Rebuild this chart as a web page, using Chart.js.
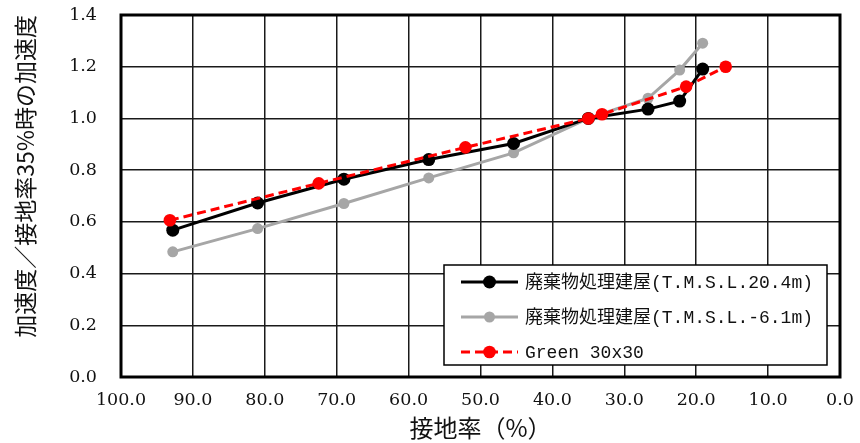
<!DOCTYPE html>
<html>
<head>
<meta charset="utf-8">
<script src="https://cdn.jsdelivr.net/npm/chart.js@4.4.0/dist/chart.umd.min.js"></script>
<style>
  html, body { margin: 0; padding: 0; background: #fff; }
  #wrap { width: 860px; height: 443px; }
</style>
</head>
<body>
<div id="wrap"><canvas id="chart"></canvas></div>
<script>
  const seriesNames = ['廃棄物処理建屋(T.M.S.L.20.4m)', '廃棄物処理建屋(T.M.S.L.-6.1m)', 'Green 30x30'];
  const buildingRatio = [92.8, 81.0, 69.0, 57.2, 45.4, 35.0, 26.7, 22.3, 19.1];
  const upperAccel = [0.568, 0.673, 0.765, 0.841, 0.903, 1.000, 1.036, 1.067, 1.191];
  const lowerAccel = [0.484, 0.574, 0.671, 0.770, 0.867, 1.000, 1.078, 1.187, 1.291];
  const greenRatio = [93.2, 72.5, 52.1, 35.0, 33.1, 21.4, 15.9];
  const greenAccel = [0.606, 0.749, 0.888, 1.000, 1.016, 1.123, 1.200];
  const xTickLabels = ['0.0', '10.0', '20.0', '30.0', '40.0', '50.0', '60.0', '70.0', '80.0', '90.0', '100.0'];
  const yTickLabels = ['0.0', '0.2', '0.4', '0.6', '0.8', '1.0', '1.2', '1.4'];

  const pts = (xs, ys) => xs.map((x, i) => ({ x: x, y: ys[i] }));
  const CJK = "'Noto Sans CJK JP', 'Noto Sans', sans-serif";
  const TICK_FONT = { family: "'DejaVu Serif', serif", size: 17.5 };

  // frame round the plot area, drawn under the lines
  const framePlugin = {
    id: 'frame',
    beforeDatasetsDraw(chart) {
      const { ctx, chartArea: a } = chart;
      ctx.save();
      ctx.strokeStyle = '#000';
      ctx.lineWidth = 3;
      ctx.strokeRect(a.left, a.top, a.right - a.left, a.bottom - a.top);
      ctx.restore();
    }
  };

  // boxed legend inside the plot, bottom right
  const boxLegend = {
    id: 'boxLegend',
    afterDatasetsDraw(chart) {
      const { ctx, chartArea: a } = chart;
      const w = 383, h = 100;
      const bx = a.right - 13 - w, by = a.bottom - 12 - h;
      ctx.save();
      ctx.fillStyle = '#fff';
      ctx.fillRect(bx, by, w, h);
      ctx.strokeStyle = '#000';
      ctx.lineWidth = 1.5;
      ctx.strokeRect(bx, by, w, h);
      chart.data.datasets.forEach((ds, i) => {
        const y = by + 17 + i * 35;
        const lx = bx + 17;
        ctx.beginPath();
        ctx.setLineDash(ds.borderDash || []);
        ctx.strokeStyle = ds.borderColor;
        ctx.lineWidth = ds.borderWidth;
        ctx.moveTo(lx, y);
        ctx.lineTo(lx + 57, y);
        ctx.stroke();
        ctx.setLineDash([]);
        ctx.beginPath();
        ctx.fillStyle = ds.pointBackgroundColor;
        ctx.arc(lx + 28.5, y, ds.pointRadius, 0, Math.PI * 2);
        ctx.fill();
        ctx.fillStyle = '#111';
        ctx.font = "18px 'Liberation Mono', " + CJK;
        ctx.textBaseline = 'middle';
        ctx.textAlign = 'left';
        ctx.fillText(ds.label, lx + 64, y + 1);
      });
      ctx.restore();
    }
  };

  new Chart(document.getElementById('chart'), {
    type: 'scatter',
    data: {
      datasets: [
        {
          label: seriesNames[0],
          data: pts(buildingRatio, upperAccel),
          showLine: true,
          borderColor: '#000',
          backgroundColor: '#000',
          pointBackgroundColor: '#000',
          pointBorderWidth: 0,
          borderWidth: 3,
          pointRadius: 6.5,
          order: 1
        },
        {
          label: seriesNames[1],
          data: pts(buildingRatio, lowerAccel),
          showLine: true,
          borderColor: '#a6a6a6',
          backgroundColor: '#a6a6a6',
          pointBackgroundColor: '#a6a6a6',
          pointBorderWidth: 0,
          borderWidth: 3,
          pointRadius: 5.5,
          order: 2
        },
        {
          label: seriesNames[2],
          data: pts(greenRatio, greenAccel),
          showLine: true,
          borderColor: '#ff0000',
          backgroundColor: '#ff0000',
          pointBackgroundColor: '#ff0000',
          pointBorderWidth: 0,
          borderWidth: 3,
          borderDash: [9, 5],
          pointRadius: 6.3,
          order: 0
        }
      ]
    },
    options: {
      responsive: true,
      maintainAspectRatio: false,
      animation: false,
      layout: { padding: { top: 15, right: 20, left: 0, bottom: 0 } },
      plugins: { legend: { display: false }, tooltip: { enabled: false } },
      scales: {
        x: {
          type: 'linear',
          reverse: true,
          min: 0,
          max: 100,
          afterFit(scale) {
            scale.height = 66;
            scale.paddingLeft = 0;
            scale.paddingRight = 0;
          },
          ticks: {
            stepSize: 10,
            padding: 13,
            color: '#111',
            font: TICK_FONT,
            maxRotation: 0,
            callback: v => xTickLabels[Math.round(v / 10)]
          },
          grid: { color: '#1a1a1a', lineWidth: 1.5, drawTicks: false },
          border: { display: false },
          title: {
            display: true,
            text: '接地率（%）',
            color: '#111',
            font: { family: CJK, size: 24 },
            padding: { top: 0, bottom: 1 }
          }
        },
        y: {
          min: 0,
          max: 1.4,
          afterFit(scale) {
            scale.width = 121;
            scale.paddingTop = 0;
            scale.paddingBottom = 0;
          },
          ticks: {
            stepSize: 0.2,
            padding: 24,
            color: '#111',
            font: TICK_FONT,
            callback: v => yTickLabels[Math.round(v / 0.2)]
          },
          grid: { color: '#1a1a1a', lineWidth: 1.5, drawTicks: false },
          border: { display: false },
          title: {
            display: true,
            text: '加速度／接地率35%時の加速度',
            align: 'end',
            color: '#111',
            font: { family: CJK, size: 23 },
            padding: { top: 11, bottom: 0 }
          }
        }
      }
    },
    plugins: [framePlugin, boxLegend]
  });
</script>
</body>
</html>
